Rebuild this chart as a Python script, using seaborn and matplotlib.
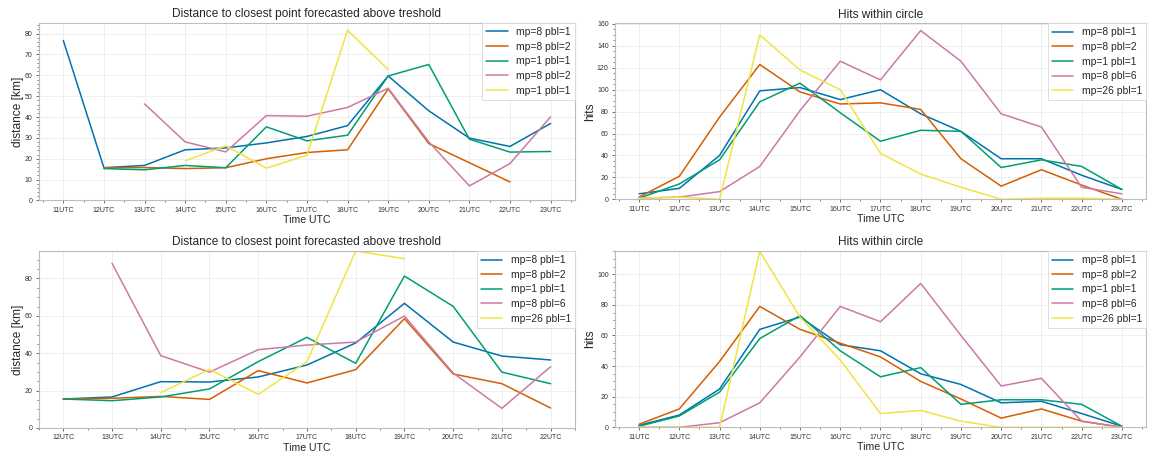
import numpy as np
import pandas as pd
import matplotlib
matplotlib.use("Agg")
import matplotlib.pyplot as plt
from matplotlib.ticker import AutoMinorLocator, MultipleLocator
import seaborn as sns

nan = np.nan

# Hours of the forecast (UTC)
hours_full = [11, 12, 13, 14, 15, 16, 17, 18, 19, 20, 21, 22, 23]
hours_short = [12, 13, 14, 15, 16, 17, 18, 19, 20, 21, 22]

labels_a = ["mp=8 pbl=1", "mp=8 pbl=2", "mp=1 pbl=1", "mp=8 pbl=2 ", "mp=1 pbl=1 "]
labels_b = ["mp=8 pbl=1", "mp=8 pbl=2", "mp=1 pbl=1", "mp=8 pbl=6", "mp=26 pbl=1"]

# Case 1: distance to closest point [km]
dist1_mp8_pbl1 = [76.7, 15.7, 16.8, 24.3, 25.2, 27.6, 30.7, 35.9, 59.7, 43.0, 29.9, 25.9, 36.9]
dist1_mp8_pbl2 = [nan, 15.7, 15.8, 15.3, 15.7, 20.0, 23.0, 24.3, 53.5, 27.3, 18.1, 8.9, nan]
dist1_mp1_pbl1 = [nan, 15.3, 14.7, 16.8, 15.7, 35.3, 28.6, 31.3, 59.7, 65.2, 29.4, 23.2, 23.5]
dist1_mp8_pbl2b = [nan, nan, 46.3, 28.1, 23.3, 40.7, 40.4, 44.6, 53.8, 28.1, 7.0, 17.7, 40.1]
dist1_mp1_pbl1b = [nan, nan, nan, 19.0, 26.2, 15.5, 21.7, 81.6, 62.8, nan, nan, nan, nan]

# Case 1: hits within circle
hits1_mp8_pbl1 = [5, 10, 40, 99, 102, 91, 100, 78, 62, 37, 37, 22, 9]
hits1_mp8_pbl2 = [2, 21, 75, 123, 98, 87, 88, 82, 37, 12, 27, 13, 0]
hits1_mp1_pbl1 = [1, 14, 36, 89, 106, 79, 53, 63, 62, 29, 36, 30, 9]
hits1_mp8_pbl6 = [1, 2, 7, 30, 81, 126, 109, 154, 126, 78, 66, 11, 5]
hits1_mp26_pbl1 = [1, 2, 0, 150, 118, 100, 42, 23, 11, 0, 1, 1, 0]

# Case 2: distance to closest point [km]
dist2_mp8_pbl1 = [15.5, 16.6, 24.8, 24.6, 27.3, 33.7, 45.5, 66.7, 46.0, 38.5, 36.4]
dist2_mp8_pbl2 = [15.5, 15.9, 16.9, 15.3, 30.7, 24.1, 31.2, 58.5, 28.9, 23.7, 10.7]
dist2_mp1_pbl1 = [15.5, 14.6, 16.6, 20.9, 35.5, 48.5, 34.6, 81.3, 65.1, 29.9, 23.7]
dist2_mp8_pbl6 = [nan, 88.1, 38.7, 29.9, 41.9, 44.4, 46.0, 59.9, 29.4, 10.5, 32.8]
dist2_mp26_pbl1 = [nan, nan, 18.9, 31.4, 18.0, 35.5, 94.7, 90.6, nan, nan, nan]

# Case 2: hits within circle
hits2_mp8_pbl1 = [1.3, 8, 25, 64, 72, 54, 50, 35, 28, 16, 17, 9, 0.7]
hits2_mp8_pbl2 = [2, 12, 43, 79, 64, 55, 46, 30, 18.5, 6, 12, 4, 0]
hits2_mp1_pbl1 = [0.7, 7.4, 23, 58, 73, 50, 33, 39, 15, 18, 18, 15, 0.7]
hits2_mp8_pbl6 = [0, 0, 3, 16, 46, 79, 69, 94, 60, 27, 32, 4, 0]
hits2_mp26_pbl1 = [0, 0, 0, 115, 72, 44, 9, 11, 4, 0, 0, 0, 0]

colors = ["#0072B2", "#D55E00", "#009E73", "#CC79A7", "#F0E442"]

sns.set_theme(style="whitegrid")
plt.rcParams["font.family"] = ["Liberation Sans", "DejaVu Sans"]
plt.rcParams.update({
    "axes.edgecolor": "#bdbdbd",
    "axes.linewidth": 0.8,
    "grid.color": "#ececec",
    "grid.linewidth": 0.6,
    "xtick.color": "#555555",
    "ytick.color": "#555555",
    "xtick.labelcolor": "#333333",
    "ytick.labelcolor": "#333333",
})


def long_frame(hours, series, labels):
    rows = []
    for lab, vals in zip(labels, series):
        for h, v in zip(hours, vals):
            rows.append({"hour": h, "value": v, "run": lab})
    return pd.DataFrame(rows).dropna()


panels = [
    dict(rect=[0.0339, 0.5584, 0.4665, 0.3910], hours=hours_full,
         series=[dist1_mp8_pbl1, dist1_mp8_pbl2, dist1_mp1_pbl1, dist1_mp8_pbl2b, dist1_mp1_pbl1b],
         labels=labels_a, title="Distance to closest point forecasted above treshold",
         ylabel="distance [km]", ytop=85.1, ystep=10),
    dict(rect=[0.5352, 0.5610, 0.4622, 0.3876], hours=hours_full,
         series=[hits1_mp8_pbl1, hits1_mp8_pbl2, hits1_mp1_pbl1, hits1_mp8_pbl6, hits1_mp26_pbl1],
         labels=labels_b, title="Hits within circle",
         ylabel="hits", ytop=160.6, ystep=20),
    dict(rect=[0.0339, 0.0573, 0.4665, 0.3898], hours=hours_short,
         series=[dist2_mp8_pbl1, dist2_mp8_pbl2, dist2_mp1_pbl1, dist2_mp8_pbl6, dist2_mp26_pbl1],
         labels=labels_b, title="Distance to closest point forecasted above treshold",
         ylabel="distance [km]", ytop=94.7, ystep=20),
    dict(rect=[0.5352, 0.0588, 0.4622, 0.3883], hours=hours_full,
         series=[hits2_mp8_pbl1, hits2_mp8_pbl2, hits2_mp1_pbl1, hits2_mp8_pbl6, hits2_mp26_pbl1],
         labels=labels_b, title="Hits within circle",
         ylabel="hits", ytop=115.2, ystep=20),
]

fig = plt.figure(figsize=(11.49, 4.54), dpi=100)

for p in panels:
    ax = fig.add_axes(p["rect"])
    df = long_frame(p["hours"], p["series"], p["labels"])
    sns.lineplot(data=df, x="hour", y="value", hue="run", hue_order=p["labels"],
                 palette=colors, errorbar=None, linewidth=1.1, ax=ax)
    ax.set_ylim(0, p["ytop"])
    ax.set_xticks(p["hours"])
    ax.set_xticklabels([f"{h}UTC" for h in p["hours"]])
    ax.xaxis.set_minor_locator(MultipleLocator(0.5))
    ax.yaxis.set_major_locator(MultipleLocator(p["ystep"]))
    ax.yaxis.set_minor_locator(AutoMinorLocator())
    ax.tick_params(axis="both", which="major", labelsize=5, length=2.5, width=0.6, pad=2,
                   bottom=True, left=True)
    ax.tick_params(axis="both", which="minor", length=1.5, width=0.5, bottom=True, left=True)
    ax.grid(True, which="major")
    ax.grid(False, which="minor")
    ax.set_title(p["title"], fontsize=8.6, pad=4)
    ax.set_xlabel("Time UTC", fontsize=7.6, labelpad=1)
    ax.set_ylabel(p["ylabel"], fontsize=8.6, labelpad=0.5)
    handles, labs = ax.get_legend_handles_labels()
    leg = ax.legend(handles, [l.strip() for l in labs], loc="upper right", fontsize=7.4,
                    borderaxespad=0, frameon=True, fancybox=False, framealpha=1,
                    edgecolor="#d9d9d9", handlelength=2.1, labelspacing=0.45)
    leg.get_frame().set_linewidth(0.6)

fig.savefig("out.png", dpi=100)
